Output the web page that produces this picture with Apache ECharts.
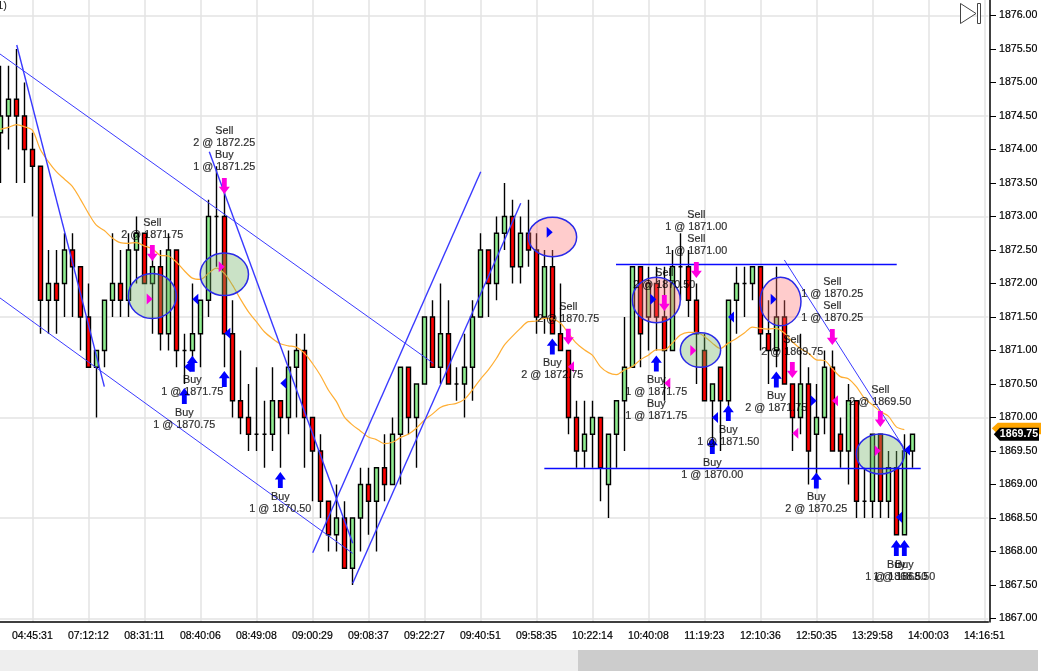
<!DOCTYPE html>
<html><head><meta charset="utf-8">
<style>html,body{margin:0;padding:0;background:#fff;overflow:hidden}#c{width:1041px;height:671px}</style>
<script src="https://cdn.jsdelivr.net/npm/echarts@6/dist/echarts.min.js"></script>
</head><body><div id="c"></div>
<script>
const tickLabels=['04:45:31','07:12:12','08:31:11','08:40:06','08:49:08','09:00:29','09:08:37','09:22:27','09:40:51','09:58:35','10:22:14','10:40:08','11:19:23','12:10:36','12:50:35','13:29:58','14:00:03','14:16:51'];
const priceTicks=[1867,1867.5,1868,1868.5,1869,1869.5,1870,1870.5,1871,1871.5,1872,1872.5,1873,1873.5,1874,1874.5,1875,1875.5,1876];
const priceGrid=[1867,1868.5,1870,1871.5,1873,1874.5,1876];
const lastPrice=1869.75;
const opens=[1874.25,1874.5,1874.75,1874.5,1874,1873.75,1871.75,1872,1872,1872.5,1872.25,1871.5,1870.75,1871,1871.75,1872,1871.75,1872.5,1872.75,1872,
1872.25,1871.25,1872.5,1871,1871,1871.25,1871.75,1873,1873,1871.25,1870.25,1870,1869.75,1869.75,1869.75,1870.25,1870,1870.75,1871,1870,
1869.5,1868.75,1868.25,1868.5,1867.75,1868.5,1869,1868.75,1869.25,1869,1869.75,1870.75,1870,1870.5,1871.5,1870.75,1871.25,1870.5,1870.5,1870.75,
1871.5,1872.5,1872,1872.75,1873,1872.25,1872.75,1872.5,1871.5,1872.25,1871.25,1871,1870,1869.5,1869.75,1870,1869,1869.75,1870.25,1870.75,
1872.25,1871.5,1872,1871.5,1871,1872.25,1872.25,1871.75,1871,1870.25,1870.75,1870.25,1871.75,1872,1872,1872.25,1871.25,1871,1871.5,1870.5,
1870,1870.5,1869.75,1870,1870.75,1869.75,1869.5,1870.25,1868.75,1868.75,1869.75,1868.75,1869.25,1868.25,1869.5];
const closes=[1874.5,1874.75,1874.5,1874,1873.75,1871.75,1872,1871.75,1872.5,1872.25,1871.5,1870.75,1871,1871.75,1872,1871.75,1872.5,1872.75,1872,1872.25,
1871.25,1872.5,1871,1871,1871.25,1871.75,1873,1873,1871.25,1870.25,1870,1869.75,1869.75,1869.75,1870.25,1870,1870.75,1871,1870,1869.5,
1868.75,1868.25,1868.5,1867.75,1868.5,1869,1868.75,1869.25,1869,1869.75,1870.75,1870,1870.5,1871.5,1870.75,1871.25,1870.5,1870.5,1870.75,1871.5,
1872.5,1872,1872.75,1873,1872.25,1872.75,1872.5,1871.5,1872.25,1871.25,1871,1870,1869.5,1869.75,1870,1869.25,1869.75,1870.25,1870.75,1872.25,
1871.25,1872,1871.5,1871,1872.25,1872.25,1871.75,1871.25,1870.25,1870.5,1870.25,1871.75,1872,1872,1872.25,1871.25,1871,1871.5,1870.5,1870,
1870.5,1869.5,1870,1870.75,1869.5,1869.5,1870.25,1868.75,1868.75,1869.75,1868.75,1869.25,1868.25,1869.5,1869.75];
const lows=[1873.5,1874,1873.5,1873.5,1873,1871.25,1871.25,1871.25,1871.5,1871.5,1871,1870.75,1870,1870.75,1871.5,1871.5,1871.5,1872,1872,1871.25,
1871,1871,1870.75,1870.5,1870.75,1870.75,1871.5,1872.25,1870.75,1870,1869.75,1869.5,1869.5,1869.25,1869.5,1869.25,1869.75,1870,1869.25,1868.75,
1868.5,1868,1868,1867.75,1867.5,1868,1868.25,1868,1868.75,1869,1869,1869.75,1869.25,1870.5,1870.75,1870.5,1870.5,1870.25,1870,1870.25,
1871.5,1871.5,1871.75,1872.5,1872,1872,1872.25,1871.25,1871.25,1871.25,1871,1869.75,1869.25,1869.25,1869.25,1868.75,1868.5,1869.25,1869.5,1870.75,
1870.75,1871,1871,1870.25,1871,1871.75,1871.5,1870.5,1870.25,1869.5,1869.5,1870,1871.25,1871.5,1871.75,1871,1870.5,1870.75,1870.5,1869.5,
1869.75,1869,1869,1869.75,1869.5,1869.25,1869,1868.5,1868.5,1868.5,1868.5,1868.5,1868.25,1868.25,1869.25];
const highs=[1875.25,1875.25,1875.5,1875,1874.25,1873.75,1872.5,1872.5,1872.75,1872.75,1872.25,1872,1871,1871.75,1872.75,1872.5,1872.75,1873,1872.75,1872.5,
1872.5,1872.75,1872.5,1871.25,1872,1871.75,1873.25,1873.75,1873.5,1871.75,1871,1870.5,1870.75,1870.25,1870.75,1870.25,1871,1871.25,1871.25,1870,
1869.75,1868.75,1869,1868.75,1868.5,1869.25,1869.25,1869.25,1869.75,1870,1870.75,1870.75,1870.5,1871.5,1871.75,1872,1871.75,1870.75,1871.25,1871.75,
1872.75,1872.5,1873,1873.5,1873.25,1873,1873.25,1872.75,1872.5,1872.5,1872,1871,1870.25,1870.25,1870.25,1870,1869.75,1870.25,1871.5,1872.25,
1872.25,1872.25,1872.25,1872.25,1872.5,1872.75,1872.5,1872,1871.25,1870.5,1870.75,1871.75,1872.25,1872.25,1872.25,1872.25,1871.75,1872.25,1871.75,1870.5,
1871.25,1870.75,1870.5,1871,1871,1870,1870.5,1870.25,1869.25,1869.75,1869.75,1869.5,1869.5,1869.75,1869.75];
const average=[1874.3,1874.33,1874.37,1874.34,1874.29,1874,1873.82,1873.67,1873.56,1873.45,1873.26,1873.05,1872.87,1872.79,1872.68,1872.61,1872.6,1872.61,1872.56,1872.52,
1872.42,1872.41,1872.32,1872.19,1872.08,1872.06,1872.15,1872.23,1872.15,1871.98,1871.77,1871.58,1871.43,1871.28,1871.18,1871.1,1871.07,1871.05,1870.96,1870.81,
1870.63,1870.41,1870.24,1870.01,1869.89,1869.8,1869.71,1869.67,1869.61,1869.63,1869.7,1869.75,1869.84,1869.96,1870.05,1870.15,1870.19,1870.21,1870.27,1870.41,
1870.57,1870.71,1870.88,1871.08,1871.21,1871.33,1871.43,1871.44,1871.48,1871.47,1871.41,1871.26,1871.11,1871.01,1870.93,1870.76,1870.67,1870.64,1870.71,1870.76,
1870.86,1870.93,1871.01,1871.01,1871.11,1871.23,1871.27,1871.27,1871.21,1871.11,1871.03,1871.11,1871.18,1871.26,1871.35,1871.33,1871.32,1871.33,1871.26,1871.13,
1871.03,1870.96,1870.86,1870.85,1870.73,1870.61,1870.58,1870.46,1870.29,1870.19,1870.09,1870.02,1869.86,1869.82];
const thickLines=[[2.05,1875.56,13,1870.46],[26.12,1873.967,44.05,1868.122],[39.05,1867.982,60.05,1873.669],[44.05,1867.525,65.05,1873.197]];
const thinLines=[[-0.04,1875.425,54.12,1870.809],[-0.04,1871.784,44.05,1867.973],[98,1872.351,112.87,1869.564]];
const levelLines=[[76.96,1872.284,112.05,1872.284],[68,1869.24,115.05,1869.24]];
const greenZones=[[19,1871.813,3,0.336],[28,1872.137,3.02,0.318],[87.52,1871.007,2.52,0.258],[110,1869.455,3,0.299]];
const redZones=[[69.02,1872.694,3.02,0.294],[82,1871.754,3,0.339],[97.52,1871.731,2.56,0.361]];
const sellArrows=[[19,1872.455],[28,1873.455],[71,1871.206],[83,1871.709],[87,1872.2],[99,1870.709],[104,1871.201],[110,1869.978]];
const buyArrows=[[23,1870.32],[24,1870.803],[28,1870.575],[35,1869.067],[69,1871.06],[82,1870.806],[91,1870.067],[89,1869.575],[97,1870.567],[102,1869.06],[112,1868.052],[113,1868.052]];
const pinkRight=[[18.67,1871.769],[27.67,1872.25],[109.67,1869.504],[86.62,1871]];
const pinkLeft=[[71.33,1870.758],[83.37,1870.51],[99.37,1869.764],[104.33,1870.25]];
const blueRight=[[68.67,1872.764],[81.62,1871.764],[96.67,1871.764],[101.67,1870.25]];
const blueLeft=[[24.37,1871.764],[23.37,1870.758],[28.37,1871.257],[35.37,1870.51],[91.33,1871.5],[89.33,1870],[112.33,1868.51],[113.33,1869.515]];
const orderBars=[28,28,19,24,23,35,71,69,83,87,87,82,82,91,89,97,99,104,104,110,102,112,113];
const orderPrices=[1874.179,1873.821,1872.813,1870.47,1869.978,1868.724,1871.56,1870.724,1872.067,1872.933,1872.575,1870.47,1870.112,1869.724,1869.231,1870.231,1871.067,1871.933,1871.575,1870.321,1868.724,1867.716,1867.716];
const orderTexts=['Sell\n2 @ 1872.25','Buy\n1 @ 1871.25','Sell\n2 @ 1871.75','Buy\n1 @ 1871.75','Buy\n1 @ 1870.75','Buy\n1 @ 1870.50','Sell\n2 @ 1870.75','Buy\n2 @ 1872.75','Sell\n2 @ 1870.50','Sell\n1 @ 1871.00','Sell\n1 @ 1871.00','Buy\n1 @ 1871.75','Buy\n1 @ 1871.75','Buy\n1 @ 1871.50','Buy\n1 @ 1870.00','Buy\n2 @ 1871.75','Sell\n2 @ 1869.75','Sell\n1 @ 1870.25','Sell\n1 @ 1870.25','Sell\n2 @ 1869.50','Buy\n2 @ 1870.25','Buy\n1 @ 1868.50','Buy\n1 @ 1868.50'];

const barCount=124, tickStart=4, tickStep=7;
const isTick=i=>i>=tickStart&&(i-tickStart)%tickStep===0;
const categories=Array.from({length:barCount},(_,i)=>isTick(i)?tickLabels[(i-tickStart)/tickStep]:'');
const FONT='"Liberation Sans",Arial,sans-serif';
const UP='path://M50,0 L100,46 L72,46 L72,100 L28,100 L28,46 L0,46 Z';
const DOWN='path://M28,0 L72,0 L72,54 L100,54 L50,100 L0,54 L28,54 Z';
const RIGHT='path://M0,0 L100,50 L0,100 Z';
const LEFT='path://M100,0 L0,50 L100,100 Z';
const marker=(data,symbol,size,color)=>({type:'scatter',xAxisIndex:1,data,symbol,symbolSize:size,itemStyle:{color,opacity:1},silent:true,z:6});
const segs=(data,width,color)=>({type:'custom',xAxisIndex:1,data,silent:true,z:5,clip:false,encode:{x:[0,2],y:[1,3]},
 renderItem:(p,api)=>{const a=api.coord([api.value(0),api.value(1)]),b=api.coord([api.value(2),api.value(3)]);
  return{type:'line',shape:{x1:a[0],y1:a[1],x2:b[0],y2:b[1]},style:{stroke:color,lineWidth:width}};}});
const zones=(data,fill)=>({type:'custom',xAxisIndex:1,data,silent:true,z:4,encode:{x:0,y:1},
 renderItem:(p,api)=>{const c=api.coord([api.value(0),api.value(1)]),s=api.size([api.value(2),api.value(3)]);
  return{type:'ellipse',shape:{cx:c[0],cy:c[1],rx:s[0],ry:s[1]},style:{fill,stroke:'#2a2ae8',lineWidth:1.5}};}});

const chart=echarts.init(document.getElementById('c'),null,{renderer:'canvas'});
chart.setOption({
 animation:false,backgroundColor:'#fff',
 grid:{left:-3.67,top:0,width:992,height:622,containLabel:false,outerBoundsMode:'none'},
 xAxis:[{type:'category',data:categories,boundaryGap:true,
   axisLine:{onZero:false,lineStyle:{color:'#000',width:1.5}},
   axisTick:{alignWithLabel:true,interval:i=>isTick(i),length:6,lineStyle:{color:'#000'}},
   axisLabel:{interval:i=>isTick(i),color:'#000',fontFamily:FONT,fontSize:10.5,margin:9,hideOverlap:false,textBorderColor:'#000',textBorderWidth:0.2},
   splitLine:{show:true,alignWithLabel:true,interval:i=>isTick(i),lineStyle:{color:'#e3e3e3',width:1.5}}},
  {type:'value',min:-0.5,max:123.5,show:false,splitLine:{show:false}}],
 yAxis:[{type:'value',position:'right',offset:1.67,min:1866.948,max:1876.231,scale:true,
   axisLine:{show:true,onZero:false,lineStyle:{color:'#000',width:1.5}},
   axisTick:{show:true,length:6,customValues:priceTicks,lineStyle:{color:'#000'}},
   axisLabel:{customValues:priceTicks,color:'#000',fontFamily:FONT,fontSize:10.6,margin:9,formatter:v=>v.toFixed(2),showMinLabel:true,showMaxLabel:true,textBorderColor:'#000',textBorderWidth:0.2},
   splitLine:{show:false}},
  {type:'value',position:'right',min:1866.948,max:1876.231,scale:true,
   axisLine:{show:false},axisLabel:{show:false,customValues:priceGrid},
   axisTick:{show:false,customValues:priceGrid},
   splitLine:{show:true,lineStyle:{color:'#e3e3e3',width:1.5}}}],
 series:[
  {type:'candlestick',xAxisIndex:0,barWidth:5,z:2,silent:true,
   data:opens.map((o,i)=>[o,closes[i],lows[i],highs[i]]),
   itemStyle:{color:'#90EE90',color0:'#FF0000',borderColor:'#000',borderColor0:'#000',borderColorDoji:'#000',borderWidth:1.4}},
  {type:'line',xAxisIndex:0,data:average,symbol:'none',smooth:0.3,z:3,silent:true,lineStyle:{color:'#FFAE33',width:1.2}},
  zones(greenZones,'rgba(110,175,100,0.37)'),
  zones(redZones,'rgba(255,110,110,0.35)'),
  segs(thickLines,1.4,'#3a3aff'),
  segs(thinLines,1,'#3a3aff'),
  segs(levelLines,1.4,'#0a0aff'),
  marker(sellArrows,DOWN,[11,16],'#FF00E0'),
  marker(buyArrows,UP,[11,16],'#0000FF'),
  marker(pinkRight,RIGHT,[6,11],'#FF00E0'),
  marker(pinkLeft,LEFT,[6,11],'#FF00E0'),
  marker(blueRight,RIGHT,[6,11],'#0000FF'),
  marker(blueLeft,LEFT,[6,11],'#0000FF'),
  {type:'scatter',xAxisIndex:1,symbolSize:0,z:8,silent:true,
   data:orderBars.map((b,i)=>({value:[b,orderPrices[i]],name:orderTexts[i]})),
   label:{show:true,position:'inside',formatter:'{b}',color:'#000',fontFamily:FONT,fontSize:10.8,lineHeight:12,align:'center',verticalAlign:'middle',textBorderColor:'#000',textBorderWidth:0.2}},
  {type:'custom',xAxisIndex:1,data:[[123.5,lastPrice]],silent:true,z:9,clip:false,encode:{x:0,y:1},
   renderItem:(p,api)=>{const c=api.coord([api.value(0),api.value(1)]);const L=c[0]+3.5,y=c[1];
    return{type:'group',children:[
     {type:'polygon',shape:{points:[[L,y-6],[L+6,y-11.5],[1041,y-11.5],[1041,y],[L+6,y]]},style:{fill:'#FFA500'}},
     {type:'polygon',shape:{points:[[L+2,y],[L+8,y-6.5],[1039,y-6.5],[1039,y+6.5],[L+8,y+6.5]]},style:{fill:'#000'}},
     {type:'text',style:{x:1019,y:y,text:lastPrice.toFixed(2),fill:'#fff',font:'bold 10.6px '+FONT,align:'center',verticalAlign:'middle'}}]};}}
 ],
 graphic:[
  {type:'rect',shape:{x:0,y:650,width:578,height:21},style:{fill:'#eeeeee'},z:20},
  {type:'rect',shape:{x:578,y:650,width:460,height:21},style:{fill:'#cccccc'},z:20},
  {type:'polygon',shape:{points:[[960.5,3.5],[976,13.5],[960.5,23.5]]},style:{fill:'#fff',stroke:'#444',lineWidth:1},z:20},
  {type:'rect',shape:{x:977.5,y:3.5,width:3,height:20},style:{fill:'#fff',stroke:'#444',lineWidth:1},z:20},
  {type:'text',style:{x:7,y:6,text:'1)',fill:'#222',font:'11px '+FONT,align:'right',verticalAlign:'middle'},z:20}
 ]
});
</script></body></html>
